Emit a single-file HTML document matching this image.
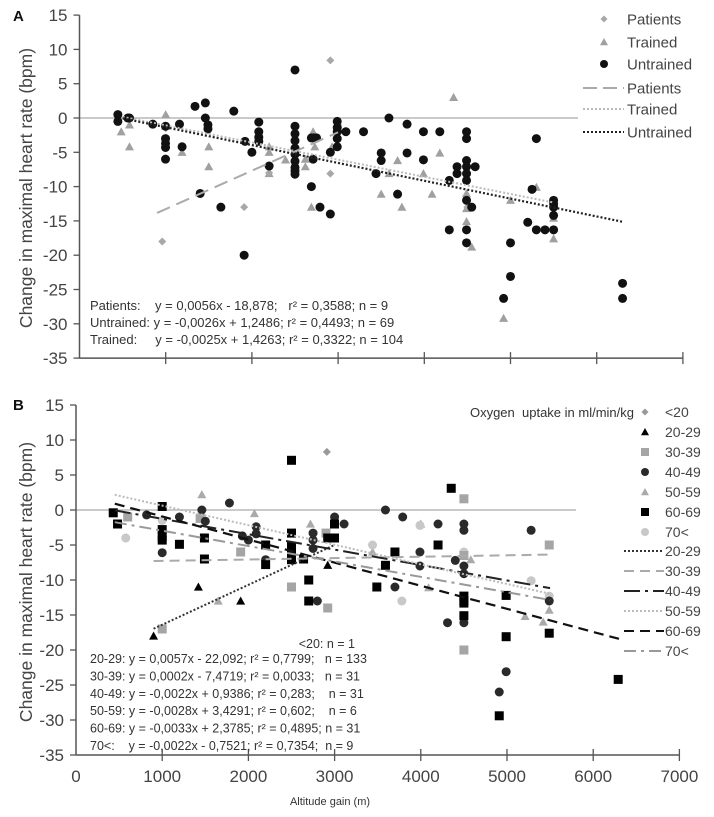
<!DOCTYPE html>
<html><head><meta charset="utf-8"><style>
html,body{margin:0;padding:0;background:#fff;}
svg{display:block;font-family:"Liberation Sans",Arial,sans-serif;}
.pre{white-space:pre;}
</style></head><body>
<svg id="chart" width="714" height="817" viewBox="0 0 714 817"></svg>
<script>
// ---------- Panel A data ----------
const aUntrainedX=[445,445,560,580,850,998,998,998,998,998,1160,1190,1340,1460,1460,1490,1490,1400,1640,1790,1910,1920,2000,2080,2080,2080,2080,2200,2500,2500,2500,2500,2500,2500,2500,2500,2500,2500,2690,2720,2750,2710,2690,2790,2910,2910,2990,2990,2990,2990,2990,3090,3295,3500,3500,3440,3590,3690,3800,3800,3990,3990,4180,4290,4290,4380,4380,4490,4490,4490,4490,4490,4490,4590,4490,4550,4490,4490,5000,5000,4920,5300,5250,5200,5300,5400,5500,5500,5500,5500,5500,6300,6300];
const aUntrainedY=[0.5,-0.5,0,0,-0.9,-1.2,-3,-3.7,-4.3,-6,-0.9,-4.2,1.7,2.2,0,-1,-1.6,-11,-13,1,-20,-3.4,-5,-0.6,-2,-2.8,-3.4,-7,7,-1.2,-2.3,-3.3,-4.4,-5.3,-6.3,-7.2,-7.7,-8.2,-2.9,-2.9,-2.9,-6,-10,-13,-14,-5,-0.5,-1.4,-2,-3,-4.2,-2,-2,-5.1,-6.2,-8.1,0,-11.1,-0.9,-5.1,-2,-6.1,-2,-9.1,-16.3,-7.1,-8.1,-2,-3,-6.2,-7.1,-8.1,-9.1,-7.1,-12,-13,-16.3,-18.2,-18.2,-23.1,-26.3,-3,-10.4,-15.2,-16.3,-16.3,-16.3,-12,-13,-14.2,-12.5,-24.1,-26.3];
const aTrainedX=[484,580,580,1000,1000,1190,1500,1500,2200,2200,2200,2390,2620,2620,2710,2730,2690,2990,2930,4340,4180,3990,3690,3500,3740,3590,4090,4490,4490,4490,4550,5000,4920,5300,5500,5500];
const aTrainedY=[-2,-1,-4.2,0.5,-1.2,-5,-4.2,-7.1,-4.2,-5,-8.1,-6.1,-6,-7.1,-2,-4.2,-13,-1,-4.2,3,-5.1,-8.1,-6.2,-11.1,-13,-8.1,-11.1,-11,-13.2,-15.1,-18.8,-12,-29.2,-10.1,-14.6,-17.6];
const aPatientsX=[2910,2910,1910,960,3000,2710,1000,4500,2200];
const aPatientsY=[8.4,-8.1,-13,-18,-1,-3,-1.5,-13,-8];
const aFitPatients=[0.0056,-18.878,900,3000];
const aFitTrained=[-0.0025,1.4263,500,5500];
const aFitUntrained=[-0.0026,1.2486,500,6300];
// ---------- Panel B data ----------
const b20X=[2910];const b20Y=[8.3];
const b2029X=[900,1420,1910,2920,2920];const b2029Y=[-18,-11,-13,-7.9,-4];
const b3039X=[1000,2500,2920,1910,1440,2900,4500,5490,4500,4500,600];const b3039Y=[-17,-11,-14,-6,-1.2,-3.3,1.6,-5,-20,-6.5,-1];
const b4049X=[819,1200,1000,1460,1500,1780,1930,2090,2090,2000,2200,2750,2750,2800,2750,3110,3000,3590,3790,3990,3990,4200,4400,4310,4500,4500,4500,4500,4500,4990,4910,5280,3700,5490];
const b4049Y=[-0.7,-1,-6.1,0,-1.6,1,-3.7,-2.4,-3.4,-4.3,-7.1,-3.3,-4.3,-13,-5.5,-2,-1,0,-1,-6,-8,-2,-7.2,-16.1,-2,-2.9,-8,-9.1,-16.1,-23.1,-26,-2.9,-11,-13];
const b5059X=[1460,1650,2070,2720,4090,5210,5420,5490,4580,3440,4000];const b5059Y=[2.2,-13,-0.5,-2,-11.1,-15.2,-16,-14.3,-7.1,-6,-2];
const b6069X=[432,482,1000,1000,1000,1000,1200,1490,1490,2200,2200,2500,2500,2500,2500,2500,2640,2700,2700,2999,2999,2920,4353,4200,3700,3590,3490,4500,4500,4500,4500,4990,4990,4910,5490,6290];
const b6069Y=[-0.4,-2,0.5,-2.8,-3.8,-4.3,-4.9,-4,-7,-7.8,-5,7.1,-3.3,-5.2,-6.2,-7.1,-7,-10,-13,-2,-4,-4,3.1,-5,-6,-7.9,-11,-13,-15.1,-12.3,-13.3,-12.2,-18.1,-29.4,-17.6,-24.2];
const b70X=[577,3780,5280,5490,3440,3990,2500,1000,4500];const b70Y=[-4,-13,-10.1,-12.3,-5,-2.2,-6,-1.5,-6];
const bFit2029=[0.0057,-22.092,900,3000];
const bFit3039=[0.0002,-7.4719,900,5500];
const bFit4049=[-0.0022,0.9386,450,5500];
const bFit5059=[-0.0028,3.4291,450,5500];
const bFit6069=[-0.0033,2.3785,450,6300];
const bFit70=[-0.0022,-0.7521,450,5500];
const yTicks=[15,10,5,0,-5,-10,-15,-20,-25,-30,-35];
const xTicks=[0,1000,2000,3000,4000,5000,6000,7000];

const NS="http://www.w3.org/2000/svg";
const svg=document.getElementById('chart');
function el(tag,attrs,parent,text){const e=document.createElementNS(NS,tag);for(const k in attrs)e.setAttribute(k,attrs[k]);if(text!==undefined)e.textContent=text;(parent||svg).appendChild(e);return e;}

function panel(p){
  const sx=v=>p.x0+v*0.0862;
  const sy=v=>p.y0-v*p.k;
  const g=el('g',{});
  
  
  const z=el('line',{x1:sx(0),x2:p.zeroEnd,y1:sy(0),y2:sy(0),stroke:'#aaa','stroke-width':1.3},g);
  
  const ya=el('line',{x1:sx(0),x2:sx(0),y1:sy(15),y2:sy(-35),stroke:'#555','stroke-width':1.5},g);
  
  const xa=el('line',{x1:sx(0),x2:sx(7000),y1:sy(-35),y2:sy(-35),stroke:'#555','stroke-width':1.5},g);
  
  yTicks.forEach(t=>{
    el('line',{x1:sx(0)-6,x2:sx(0),y1:sy(t),y2:sy(t),stroke:'#555','stroke-width':1.3},g);
    const tl=el('text',{x:sx(0)-12,y:sy(t)+6,'text-anchor':'end','font-size':17,fill:'#444'},g,String(t));
    
  });
  xTicks.forEach(t=>{
    if(t>0) el('line',{x1:sx(t),x2:sx(t),y1:sy(-35)-6,y2:sy(-35)+6,stroke:'#555','stroke-width':1.3},g);
    if(p.xLabels){
      const tl=el('text',{x:sx(t),y:sy(-35)+27,'text-anchor':'middle','font-size':17,fill:'#444'},g,String(t));
      
    }
  });
  const yt=el('text',{x:0,y:0,'text-anchor':'middle','font-size':17.5,fill:'#444',transform:`translate(${p.titleX},${p.titleY}) rotate(-90)`},g,'Change in maximal heart rate (bpm)');
  
  const lt=el('text',{x:13,y:p.letterY,'font-size':15,'font-weight':'bold',fill:'#111'},g,p.letter);
  
  return {g,sx,sy};
}

function marker(g,type,cx,cy,fill,size){
  let m;
  const s=size||4.5;
  if(type==='circle') m=el('circle',{cx,cy,r:s,fill},g);
  else if(type==='square') m=el('rect',{x:cx-s,y:cy-s,width:2*s,height:2*s,fill},g);
  else if(type==='triangle') m=el('polygon',{points:`${cx},${cy-s} ${cx-s},${cy+s*0.8} ${cx+s},${cy+s*0.8}`,fill},g);
  else m=el('polygon',{points:`${cx},${cy-s} ${cx+s},${cy} ${cx},${cy+s} ${cx-s},${cy}`,fill},g);
  return m;
}
function series(P,xs,ys,type,fill,name,size){
  xs.forEach((x,i)=>{
    const m=marker(P.g,type,P.sx(x),P.sy(ys[i]),fill,size);
    
    
  });
}
function fit(P,f,stroke,dash,w,name){
  const l=el('line',{x1:P.sx(f[2]),y1:P.sy(f[0]*f[2]+f[1]),x2:P.sx(f[3]),y2:P.sy(f[0]*f[3]+f[1]),stroke,'stroke-width':w||2,'stroke-dasharray':dash},P.g);
  
  
}
function legendEntry(g,x,y,label,fs,draw){
  const t=el('text',{x,y:y+fs*0.36,'font-size':fs,fill:'#444'},g,label);
  
  draw();
}

// ---------- Panel A ----------
const A=panel({name:'panel-a',x0:79.5,y0:118,k:6.86,zeroEnd:578,xLabels:false,titleX:32,titleY:188,letter:'A',letterY:21});
series(A,aTrainedX,aTrainedY,'triangle','#a0a0a0','trained-point',4.5);
series(A,aPatientsX,aPatientsY,'diamond','#a8a8a8','patient-point',4);
series(A,aUntrainedX,aUntrainedY,'circle','#111','untrained-point',4.5);
fit(A,aFitPatients,'#aaa','14 7',2,'patients-trendline');
fit(A,aFitTrained,'#bbb','2 2',2,'trained-trendline');
fit(A,aFitUntrained,'#222','2 2',2.2,'untrained-trendline');
const la=el('g',{},A.g);
const laY=[19,42,64,88,109,132];
legendEntry(la,627,laY[0],'Patients',15,()=>{const m=marker(la,'diamond',604,laY[0],'#a8a8a8',3.5);});
legendEntry(la,627,laY[1],'Trained',15,()=>{const m=marker(la,'triangle',604,laY[1],'#a0a0a0',4);});
legendEntry(la,627,laY[2],'Untrained',15,()=>{const m=marker(la,'circle',604,laY[2],'#111',4);});
legendEntry(la,627,laY[3],'Patients',15,()=>{el('line',{x1:583,x2:624,y1:laY[3],y2:laY[3],stroke:'#aaa','stroke-width':2,'stroke-dasharray':'14 6'},la);});
legendEntry(la,627,laY[4],'Trained',15,()=>{el('line',{x1:583,x2:624,y1:laY[4],y2:laY[4],stroke:'#bbb','stroke-width':2,'stroke-dasharray':'2 2'},la);});
legendEntry(la,627,laY[5],'Untrained',15,()=>{el('line',{x1:583,x2:624,y1:laY[5],y2:laY[5],stroke:'#222','stroke-width':2,'stroke-dasharray':'2 2'},la);});
const aNotes=['Patients:    y = 0,0056x - 18,878;   r² = 0,3588; n = 9','Untrained: y = -0,0026x + 1,2486; r² = 0,4493; n = 69','Trained:     y = -0,0025x + 1,4263; r² = 0,3322; n = 104'];
aNotes.forEach((s,i)=>{const t=el('text',{x:90,y:310+i*17,'font-size':13,fill:'#333','class':'pre'},A.g,s);});

// ---------- Panel B ----------
const B=panel({name:'panel-b',x0:76,y0:510,k:7,zeroEnd:576,xLabels:true,titleX:32,titleY:582,letter:'B',letterY:410});
series(B,b20X,b20Y,'diamond','#999','lt20-point',4);
series(B,b5059X,b5059Y,'triangle','#aaa','vo2-50-59-point',4.5);
series(B,b70X,b70Y,'circle','#c8c8c8','vo2-70plus-point',4.5);
series(B,b3039X,b3039Y,'square','#a5a5a5','vo2-30-39-point',4.5);
series(B,b4049X,b4049Y,'circle','#2a2a2a','vo2-40-49-point',4.5);
series(B,b2029X,b2029Y,'triangle','#000','vo2-20-29-point',4.5);
series(B,b6069X,b6069Y,'square','#000','vo2-60-69-point',4.5);
fit(B,bFit2029,'#333','2 2',2,'trendline-20-29');
fit(B,bFit3039,'#aaa','10 6',2,'trendline-30-39');
fit(B,bFit4049,'#222','16 5 3 5',2,'trendline-40-49');
fit(B,bFit5059,'#bbb','2 2',2,'trendline-50-59');
fit(B,bFit6069,'#111','10 6',2.2,'trendline-60-69');
fit(B,bFit70,'#999','12 5 3 5',2,'trendline-70plus');
const lb=el('g',{},B.g);
const ot=el('text',{x:634,y:417,'text-anchor':'end','font-size':13,fill:'#333','class':'pre'},lb,'Oxygen  uptake in ml/min/kg');

const lbY=[412,432,452,472,492,512,532,551,571,591,611,631,651];
const lbMarks=[['diamond','#999',3.5],['triangle','#000',4],['square','#a5a5a5',4],['circle','#2a2a2a',4],['triangle','#aaa',4],['square','#000',4],['circle','#c8c8c8',4]];
const lbLabels=['<20','20-29','30-39','40-49','50-59','60-69','70<','20-29','30-39','40-49','50-59','60-69','70<'];
const lbLines=[['#333','2 2'],['#aaa','10 6'],['#222','16 5 3 5'],['#bbb','2 2'],['#111','10 6'],['#999','12 5 3 5']];
lbLabels.forEach((lab,i)=>{
  legendEntry(lb,665,lbY[i],lab,14,()=>{
    if(i<7){const m=marker(lb,lbMarks[i][0],645,lbY[i],lbMarks[i][1],lbMarks[i][2]);}
    else{const s=lbLines[i-7];el('line',{x1:624,x2:664,y1:lbY[i],y2:lbY[i],stroke:s[0],'stroke-width':2,'stroke-dasharray':s[1]},lb);}
  });
});
const n20=el('text',{x:355,y:648,'text-anchor':'end','font-size':12.5,fill:'#333'},B.g,'<20: n = 1');

const bNotes=['20-29: y = 0,0057x - 22,092; r² = 0,7799;   n = 133','30-39: y = 0,0002x - 7,4719; r² = 0,0033;   n = 31','40-49: y = -0,0022x + 0,9386; r² = 0,283;    n = 31','50-59: y = -0,0028x + 3,4291; r² = 0,602;    n = 6','60-69: y = -0,0033x + 2,3785; r² = 0,4895; n = 31','70<:    y = -0,0022x - 0,7521; r² = 0,7354;  n = 9'];
bNotes.forEach((s,i)=>{const t=el('text',{x:90,y:663+i*17.4,'font-size':12.5,fill:'#333','class':'pre'},B.g,s);});
const xt=el('text',{x:330,y:805,'text-anchor':'middle','font-size':11,fill:'#333'},B.g,'Altitude gain (m)');

</script>
</body></html>
